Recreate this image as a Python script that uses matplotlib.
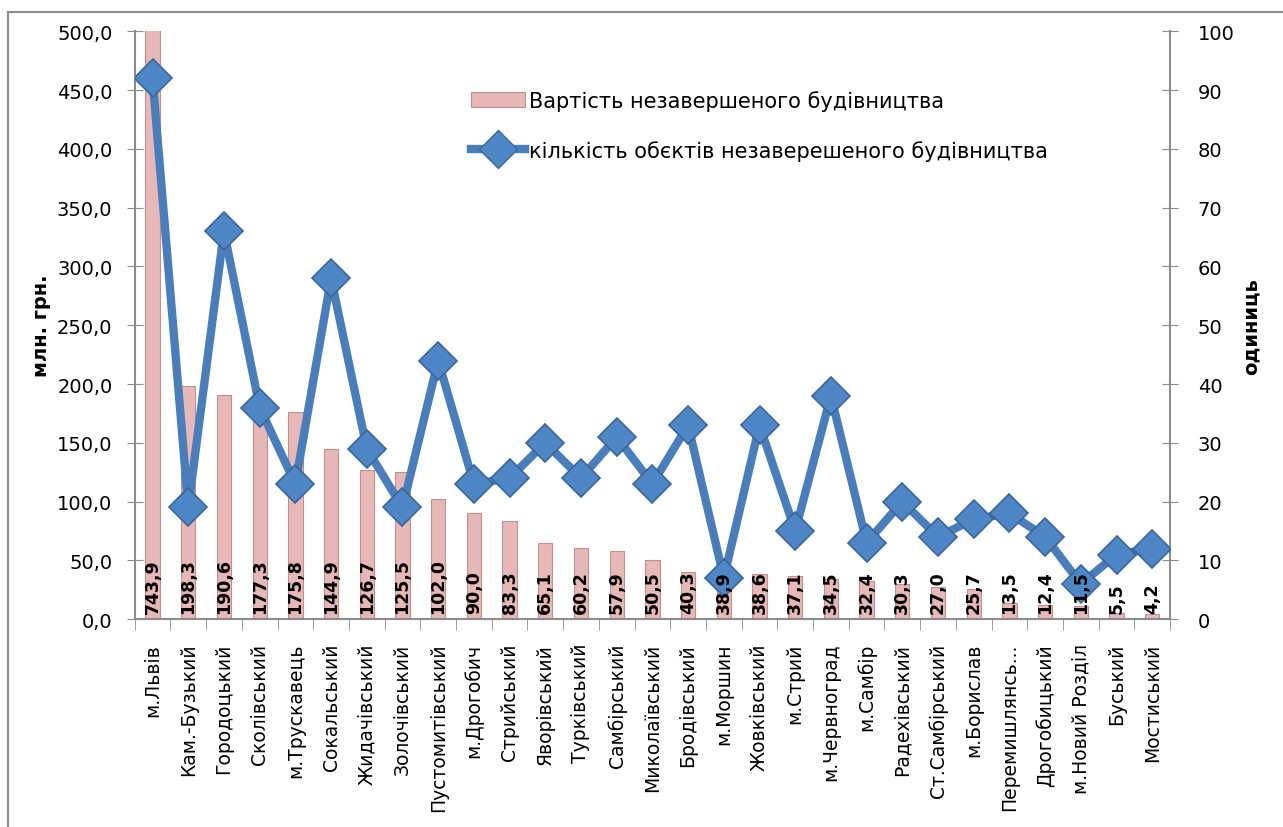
import numpy as np
import matplotlib
matplotlib.use('Agg')
import matplotlib.pyplot as plt
from matplotlib.lines import Line2D
from matplotlib.ticker import FuncFormatter

plt.rcParams['font.family'] = ['DejaVu Sans']

# Data
districts = ['м.Львів', 'Кам.-Бузький', 'Городоцький', 'Сколівський', 'м.Трускавець',
             'Сокальський', 'Жидачівський', 'Золочівський', 'Пустомитівський', 'м.Дрогобич',
             'Стрийський', 'Яворівський', 'Турківський', 'Самбірський', 'Миколаївський',
             'Бродівський', 'м.Моршин', 'Жовківський', 'м.Стрий', 'м.Червноград',
             'м.Самбір', 'Радехівський', 'Ст.Самбірський', 'м.Борислав', 'Перемишлянсь...',
             'Дрогобицький', 'м.Новий Розділ', 'Буський', 'Мостиський']
cost = [743.9, 198.3, 190.6, 177.3, 175.8, 144.9, 126.7, 125.5, 102.0, 90.0,
        83.3, 65.1, 60.2, 57.9, 50.5, 40.3, 38.9, 38.6, 37.1, 34.5,
        32.4, 30.3, 27.0, 25.7, 13.5, 12.4, 11.5, 5.5, 4.2]
objects = [92, 19, 66, 36, 23, 58, 29, 19, 44, 23,
           24, 30, 24, 31, 23, 33, 7, 33, 15, 38,
           13, 20, 14, 17, 18, 14, 6, 11, 12]

bar_label = 'Вартість незавершеного будівництва'
line_label = 'кількість обєктів незаверешеного будівництва'

axis_grey = '#8c8c8c'
bar_color = '#E6B9B8'
bar_edge = '#C0908E'
line_color = '#4A7EBB'

fig = plt.figure(figsize=(12.83, 8.28), dpi=100)
ax = fig.add_axes([0.105, 0.251, 0.807, 0.710])
ax2 = ax.twinx()

x = np.arange(len(districts))

# bars (values above 500 are clipped by the axis)
ax.bar(x, cost, width=0.4, color=bar_color, edgecolor=bar_edge, linewidth=0.8,
       label=bar_label, zorder=2)
ax.set_ylim(0, 500)
ax.set_xlim(-0.5, len(districts) - 0.5)

# line with diamond markers on the secondary axis
ax2.plot(x, objects, color=line_color, linewidth=6, marker='D', markersize=19,
         markerfacecolor='#4F86C6', markeredgecolor='#3A6699', markeredgewidth=1.2,
         label=line_label, zorder=3)
ax2.set_ylim(0, 100)

# value labels on the bars
for xi, v in zip(x, cost):
    ax2.text(xi, 5, f'{v:.1f}'.replace('.', ','), transform=ax.transData,
             rotation=90, ha='center', va='bottom', fontsize=12.5,
             fontweight='bold', color='black', zorder=5)

# axes styling
ax.set_yticks(np.arange(0, 501, 50))
ax.yaxis.set_major_formatter(FuncFormatter(lambda v, p: f'{v:.1f}'.replace('.', ',')))
ax2.set_yticks(np.arange(0, 101, 10))
ax.tick_params(axis='y', direction='inout', length=12, color=axis_grey, labelsize=14, pad=10)
ax2.tick_params(axis='y', direction='inout', length=12, color=axis_grey, labelsize=14, pad=14)

ax.set_xticks(x)
ax.set_xticklabels(districts, rotation=90, fontsize=13.5)
ax.tick_params(axis='x', which='major', length=0, pad=17)
ax.set_xticks(np.arange(-0.5, len(districts), 1), minor=True)
ax.tick_params(axis='x', which='minor', direction='out', length=8, color=axis_grey)

for a in (ax, ax2):
    a.spines['top'].set_visible(False)
    for s in ('left', 'right', 'bottom'):
        a.spines[s].set_color(axis_grey)
        a.spines[s].set_linewidth(1.5)
ax.spines['right'].set_visible(False)
ax2.spines['left'].set_visible(False)
ax2.spines['bottom'].set_visible(False)

ax.set_ylabel('млн. грн.', fontsize=14, fontweight='bold', labelpad=4)
ax2.set_ylabel('одиниць', fontsize=14, fontweight='bold', rotation=90, labelpad=5)

# legend
handles = [ax.patches[0], Line2D([0], [0], color=line_color, linewidth=6, marker='D',
                                 markersize=19, markerfacecolor='#4F86C6',
                                 markeredgecolor='#3A6699')]
fig.legend(handles, [bar_label, line_label], loc='upper left',
           bbox_to_anchor=(452 / 1283, 1 - 72 / 828), frameon=False, fontsize=15,
           handlelength=2.6, labelspacing=1.4, handletextpad=0.2)

# chart border
fig.add_artist(Line2D([8 / 1283, 8 / 1283], [0, 1 - 13 / 828], transform=fig.transFigure,
                      color='#8c8c8c', linewidth=1.5))
fig.add_artist(Line2D([8 / 1283, 1], [1 - 13 / 828, 1 - 13 / 828], transform=fig.transFigure,
                      color='#8c8c8c', linewidth=1.5))

fig.savefig('out.png', dpi=100)
